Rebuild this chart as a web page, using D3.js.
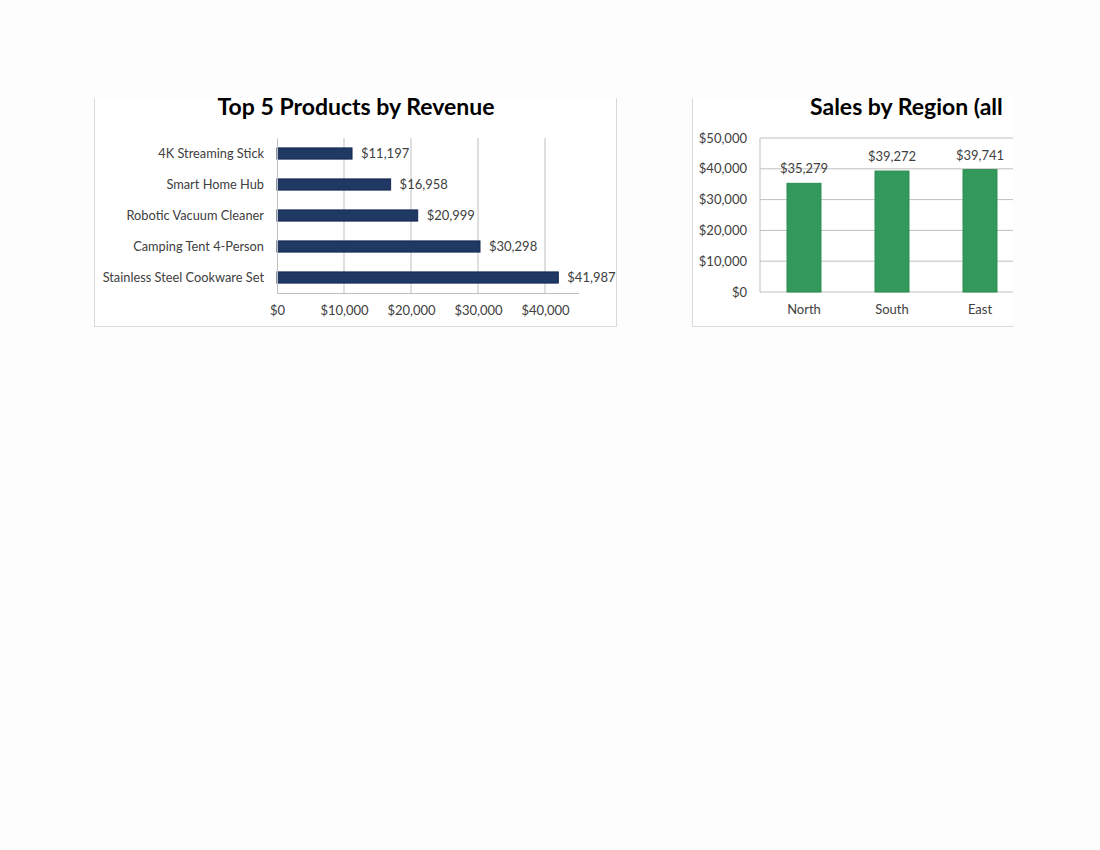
<!DOCTYPE html>
<html>
<head>
<meta charset="utf-8">
<script src="https://cdn.jsdelivr.net/npm/d3@7"></script>
<style>
  body { margin: 0; background: #fdfdfe; }
  text { font-family: Lato, "Noto Sans", sans-serif; fill: #404040; }
</style>
</head>
<body>
<svg id="sheet" width="1100" height="850"></svg>
<script>
// data
const products = ["4K Streaming Stick", "Smart Home Hub", "Robotic Vacuum Cleaner", "Camping Tent 4-Person", "Stainless Steel Cookware Set"];
const productRevenue = [11197, 16958, 20999, 30298, 41987];
const productTicks = [0, 10000, 20000, 30000, 40000];

const regions = ["North", "South", "East"];
const regionSales = [35279, 39272, 39741];
const regionTicks = [0, 10000, 20000, 30000, 40000, 50000];

const fmt = d3.format("$,.0f");

const svg = d3.select("#sheet");
// the screenshot is cropped at top and right
svg.append("clipPath").attr("id", "crop")
   .append("rect").attr("x", 0).attr("y", 98).attr("width", 1013).attr("height", 760);
const page = svg.append("g").attr("clip-path", "url(#crop)");

// ---- left chart: Top 5 Products ----
const left = page.append("g");
left.append("rect").attr("x", 94.5).attr("y", 60.5).attr("width", 522).attr("height", 266)
    .attr("fill", "#ffffff").attr("stroke", "#d9d9d9");

left.append("text").attr("x", 356).attr("y", 115).attr("text-anchor", "middle")
    .style("font-size", "23px").style("font-weight", "bold").style("fill", "#000")
    .text("Top 5 Products by Revenue");

const x = d3.scaleLinear().domain([0, 45000]).range([277, 578.5]);
const y = d3.scaleBand().domain(products).range([138, 293]).paddingInner(0.64).paddingOuter(0.32);

left.append("g").selectAll("line").data(productTicks.slice(1)).join("line")
    .attr("x1", d => x(d)).attr("x2", d => x(d)).attr("y1", 138).attr("y2", 293)
    .attr("stroke", "#bfbfbf");

left.append("g").selectAll("rect").data(productRevenue).join("rect")
    .attr("x", x(0)).attr("y", (d, i) => y(products[i]))
    .attr("width", d => x(d) - x(0)).attr("height", y.bandwidth())
    .attr("fill", "#203864").attr("stroke", "#142850").attr("stroke-width", 1);

const xAxis = left.append("g").attr("transform", "translate(0,293)")
    .call(d3.axisBottom(x).tickValues(productTicks).tickFormat(fmt).tickSize(0).tickPadding(13));
xAxis.select(".domain").attr("stroke", "#bfbfbf");
xAxis.selectAll("text").style("font-size", "13px").style("fill", "#404040");

const yAxis = left.append("g").attr("transform", "translate(277,0)")
    .call(d3.axisLeft(y).tickSize(0).tickPadding(13));
yAxis.select(".domain").attr("stroke", "#bfbfbf");
yAxis.selectAll("text").style("font-size", "12.8px").style("fill", "#404040");

left.append("g").selectAll("text").data(productRevenue).join("text")
    .attr("x", d => x(d) + 9).attr("y", (d, i) => y(products[i]) + y.bandwidth() / 2)
    .attr("dy", "0.35em").style("font-size", "13px")
    .text(d => fmt(d));

// ---- right chart: Sales by Region ----
const right = page.append("g");
right.append("rect").attr("x", 692.5).attr("y", 60.5).attr("width", 500).attr("height", 266)
    .attr("fill", "#ffffff").attr("stroke", "#d9d9d9");

right.append("text").attr("x", 810).attr("y", 115)
    .style("font-size", "23px").style("font-weight", "bold").style("fill", "#000")
    .text("Sales by Region (all");

const ry = d3.scaleLinear().domain([0, 50000]).range([292, 138]);
const rx = d3.scaleBand().domain(regions).range([760, 1024]).paddingInner(0.614).paddingOuter(0.307);

right.append("g").selectAll("line").data(regionTicks).join("line")
    .attr("x1", 760).attr("x2", 1100).attr("y1", d => ry(d)).attr("y2", d => ry(d))
    .attr("stroke", "#bfbfbf");

right.append("line").attr("x1", 760).attr("x2", 760).attr("y1", 138).attr("y2", 292)
    .attr("stroke", "#bfbfbf");

const ryAxis = right.append("g").attr("transform", "translate(760,0)")
    .call(d3.axisLeft(ry).tickValues(regionTicks).tickFormat(fmt).tickSize(0).tickPadding(13));
ryAxis.select(".domain").remove();
ryAxis.selectAll("text").style("font-size", "13px").style("fill", "#404040");

const rxAxis = right.append("g").attr("transform", "translate(0,292)")
    .call(d3.axisBottom(rx).tickSize(0).tickPadding(13));
rxAxis.select(".domain").remove();
rxAxis.selectAll("text").style("font-size", "13px").style("fill", "#404040");

right.append("g").selectAll("rect").data(regionSales).join("rect")
    .attr("x", (d, i) => rx(regions[i])).attr("y", d => ry(d))
    .attr("width", rx.bandwidth()).attr("height", d => ry(0) - ry(d))
    .attr("fill", "#33995a").attr("stroke", "#2a8c4f").attr("stroke-width", 1);

right.append("g").selectAll("text").data(regionSales).join("text")
    .attr("x", (d, i) => rx(regions[i]) + rx.bandwidth() / 2).attr("y", d => ry(d) - 10)
    .attr("text-anchor", "middle").style("font-size", "13px")
    .text(d => fmt(d));
</script>
</body>
</html>
